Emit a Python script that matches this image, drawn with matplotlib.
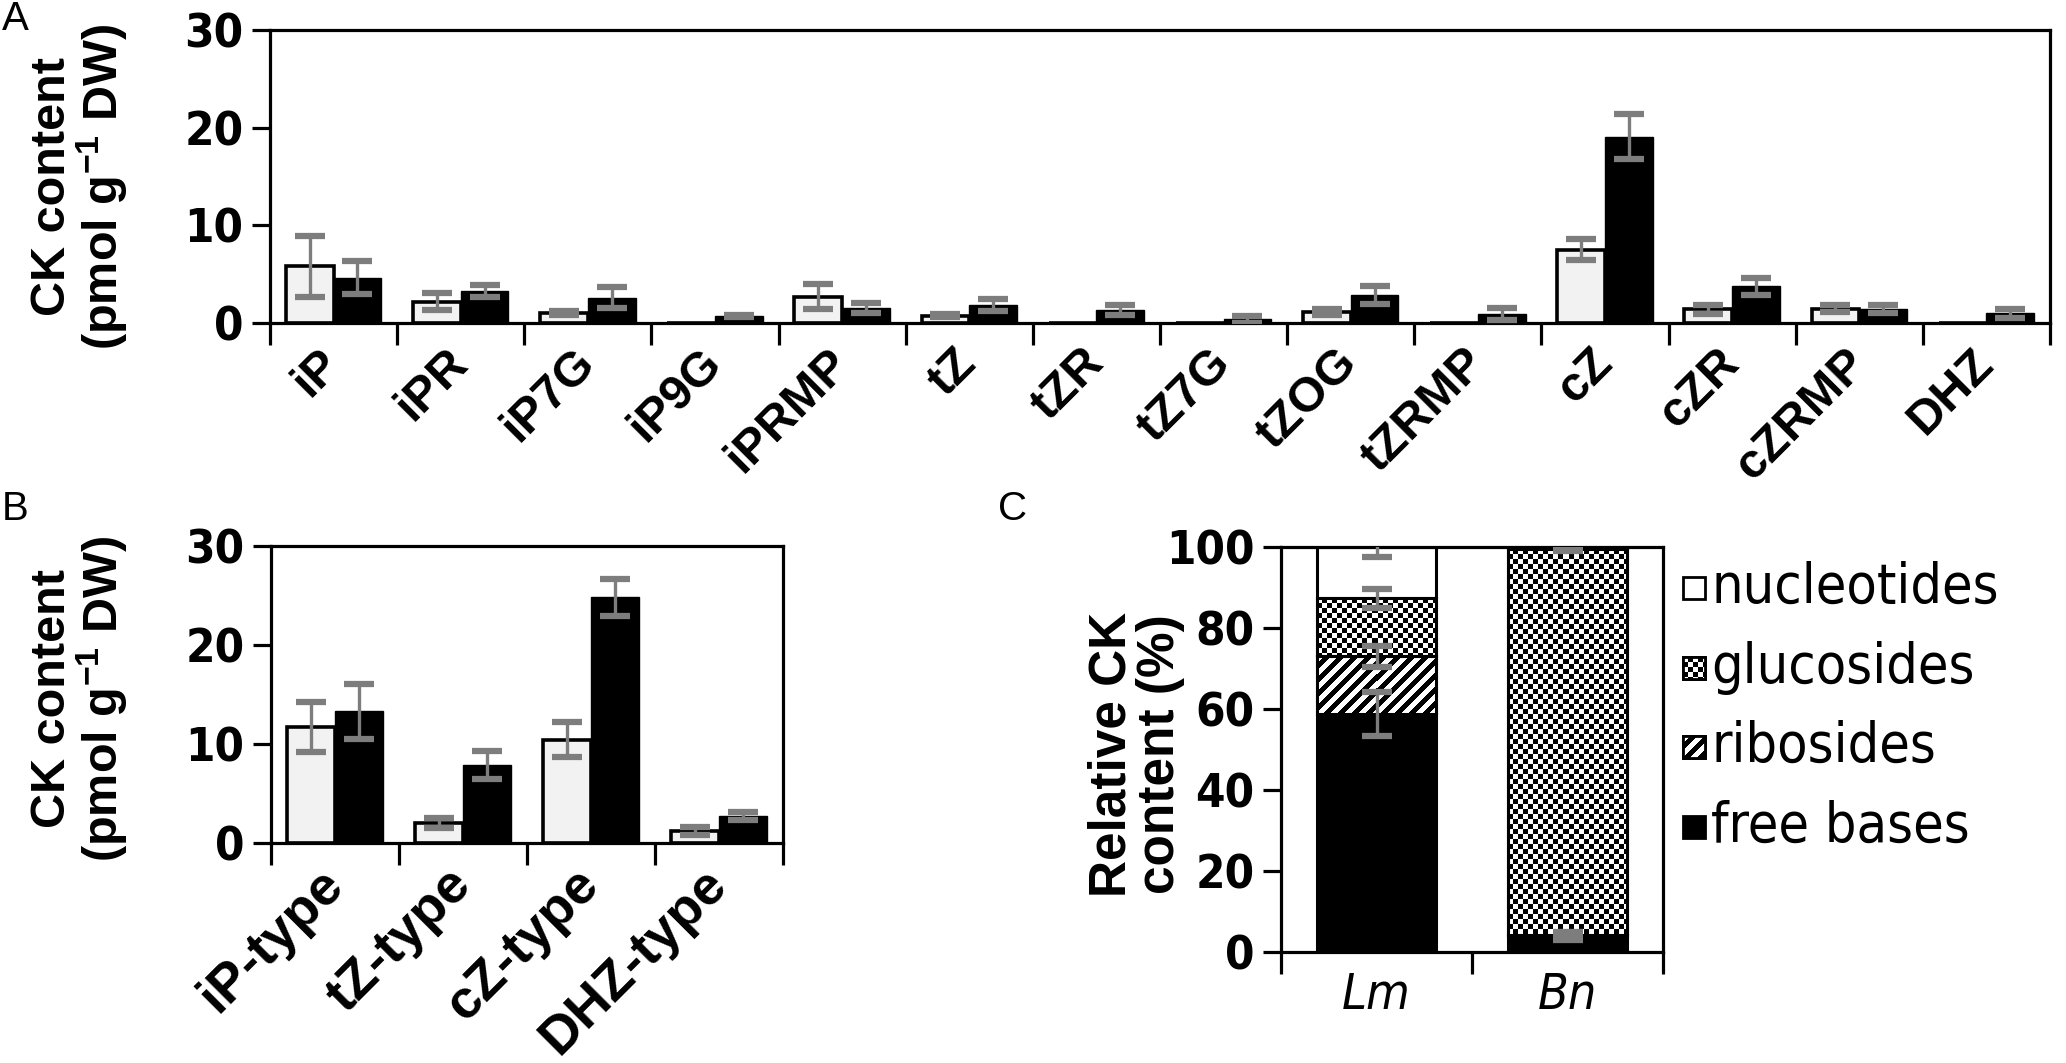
import numpy as np
import matplotlib
matplotlib.use('Agg')
import matplotlib.pyplot as plt
from matplotlib import font_manager
from matplotlib.font_manager import FontProperties
from matplotlib.patches import Rectangle

# ---------------- data ----------------
a_labels = ['iP', 'iPR', 'iP7G', 'iP9G', 'iPRMP', 'tZ', 'tZR', 'tZ7G', 'tZOG',
            'tZRMP', 'cZ', 'cZR', 'cZRMP', 'DHZ']
a_white = [5.8, 2.2, 1.05, 0.0, 2.7, 0.75, 0.0, 0.0, 1.1, 0.0, 7.5, 1.4, 1.45, 0.0]
a_white_err = [3.1, 0.85, 0.2, 0.0, 1.3, 0.15, 0.0, 0.0, 0.3, 0.0, 1.1, 0.45, 0.35, 0.0]
a_black = [4.65, 3.3, 2.6, 0.72, 1.5, 1.85, 1.3, 0.4, 2.85, 0.92, 19.05, 3.75, 1.45, 0.98]
a_black_err = [1.7, 0.6, 1.1, 0.15, 0.5, 0.6, 0.5, 0.35, 0.9, 0.6, 2.3, 0.85, 0.4, 0.5]

b_labels = ['iP-type', 'tZ-type', 'cZ-type', 'DHZ-type']
b_white = [11.7, 2.05, 10.45, 1.2]
b_white_err = [2.55, 0.5, 1.75, 0.4]
b_black = [13.3, 7.9, 24.8, 2.7]
b_black_err = [2.8, 1.4, 1.85, 0.42]

c_labels = ['Lm', 'Bn']
c_free = [58.8, 4.0]
c_free_err = [5.5, 1.0]
c_ribo = [14.2, 0.2]
c_ribo_err = [2.6, 0.2]
c_gluco = [14.3, 95.3]
c_gluco_err = [2.4, 0.4]
c_nucl = [12.7, 0.5]
c_nucl_err = [2.5, 0.3]
c_legend = ['nucleotides', 'glucosides', 'ribosides', 'free bases']

# ---------------- fonts ----------------
ttf = font_manager.fontManager.ttflist
names = {f.name for f in ttf}
SANS = 'Liberation Sans' if 'Liberation Sans' in names else 'DejaVu Sans'


def find_file(patterns):
    for pat in patterns:
        for f in ttf:
            base = f.fname.split('/')[-1].lower()
            if base == pat.lower():
                return f.fname
    return None


nb = find_file(['LiberationSansNarrow-Bold.ttf', 'ArialNarrow-Bold.ttf',
                'DejaVuSansCondensed-Bold.ttf', 'RobotoCondensed-Bold.ttf'])
nr = find_file(['LiberationSansNarrow-Regular.ttf', 'ArialNarrow.ttf',
                'DejaVuSansCondensed.ttf', 'RobotoCondensed-Regular.ttf'])
ni = find_file(['LiberationSansNarrow-Italic.ttf', 'ArialNarrow-Italic.ttf',
                'DejaVuSansCondensed-Oblique.ttf', 'RobotoCondensed-Italic.ttf'])


def fp_bold(size):
    if nb:
        return FontProperties(fname=nb, size=size)
    return FontProperties(family=SANS, weight='bold', size=size * 0.9)


def fp_reg(size):
    if nr:
        return FontProperties(fname=nr, size=size)
    return FontProperties(family=SANS, size=size * 0.9)


def fp_ital(size):
    if ni:
        return FontProperties(fname=ni, size=size)
    return FontProperties(family=SANS, style='italic', size=size * 0.9)


plt.rcParams['font.family'] = [SANS, 'DejaVu Sans']
plt.rcParams['mathtext.fontset'] = 'custom'
plt.rcParams['mathtext.rm'] = SANS + ':bold'
plt.rcParams['mathtext.bf'] = SANS + ':bold'
plt.rcParams['mathtext.it'] = SANS + ':bold'

W, H = 2066, 1063
DPI = 100
fig = plt.figure(figsize=(W / DPI, H / DPI), dpi=DPI)

ERR_C = '#7d7d7d'
WHITE_C = '#f2f2f2'
SPINE_LW = 2.3
TICK_SIZE = 34


def px_axes(left, top, right, bottom):
    return fig.add_axes([left / W, 1 - bottom / H, (right - left) / W, (bottom - top) / H])


def style_axes(ax):
    for s in ax.spines.values():
        s.set_linewidth(SPINE_LW)
        s.set_color('black')
    ax.tick_params(axis='both', which='major', direction='out', width=SPINE_LW,
                   length=13, color='black')
    for lab in ax.get_yticklabels():
        lab.set_fontproperties(fp_bold(TICK_SIZE))


def grouped(ax, labels, white, white_err, black, black_err, xfont):
    n = len(labels)
    x = np.arange(n) + 0.5
    bw = 0.375
    ax.bar(x - bw / 2, white, bw, color=WHITE_C, edgecolor='black', linewidth=2.6, zorder=2)
    ax.bar(x + bw / 2, black, bw, color='black', edgecolor='black', linewidth=1.0, zorder=2)
    for xs, v, e in ((x - bw / 2, white, white_err), (x + bw / 2, black, black_err)):
        idx = [i for i in range(n) if v[i] > 0]
        ax.errorbar(xs[idx], np.array(v)[idx], yerr=np.array(e)[idx], fmt='none',
                    ecolor=ERR_C, elinewidth=2.4, capsize=11, capthick=4.5, zorder=3)
    ax.set_xlim(0, n)
    ax.set_ylim(0, 30)
    ax.set_yticks([0, 10, 20, 30])
    ax.set_xticks(np.arange(n + 1))
    ax.set_xticklabels([])
    ax.set_xticks(x, minor=True)
    ax.set_xticklabels(labels, minor=True, rotation=45, ha='right', va='center',
                       rotation_mode='anchor', fontsize=xfont, fontweight='bold')
    ax.tick_params(axis='x', which='minor', length=0, pad=24)
    style_axes(ax)
    ax.tick_params(axis='x', which='major', length=16)
    ax.tick_params(axis='y', pad=6)


# ---------------- panel A ----------------
axA = px_axes(270, 30, 2050, 323)
grouped(axA, a_labels, a_white, a_white_err, a_black, a_black_err, 35)

# ---------------- panel B ----------------
axB = px_axes(271, 546, 783, 843)
grouped(axB, b_labels, b_white, b_white_err, b_black, b_black_err, 39)

ylab = 'CK content\n(pmol g$^{-1}$ DW)'
for ax, yc in ((axA, (30 + 323) / 2 + 10), (axB, (546 + 843) / 2 + 4)):
    fig.text(80 / W, 1 - yc / H, ylab, rotation=90, ha='center', va='center',
             multialignment='center', fontsize=35, fontweight='bold', linespacing=1.0)

# ---------------- panel C ----------------
axC = px_axes(1281, 547, 1663, 952)
xc = np.arange(len(c_labels)) + 0.5
cbw = 0.62
bottoms = np.zeros(len(c_labels))
segs = [('free', c_free, c_free_err), ('ribo', c_ribo, c_ribo_err),
        ('gluco', c_gluco, c_gluco_err), ('nucl', c_nucl, c_nucl_err)]
seg_patches = []
for kind, vals, errs in segs:
    fc = 'black' if kind == 'free' else 'white'
    bars = axC.bar(xc, vals, cbw, bottom=bottoms, color=fc, edgecolor='black',
                   linewidth=2.2, zorder=2)
    seg_patches.append((kind, bars))
    tops = bottoms + np.array(vals)
    axC.errorbar(xc, tops, yerr=errs, fmt='none', ecolor=ERR_C, elinewidth=2.4,
                 capsize=11, capthick=4.5, zorder=4)
    bottoms = tops
axC.set_xlim(0, 2)
axC.set_ylim(0, 100)
axC.set_yticks([0, 20, 40, 60, 80, 100])
axC.set_xticks([0, 1, 2])
axC.set_xticklabels([])
axC.set_xticks(xc, minor=True)
axC.set_xticklabels(c_labels, minor=True)
for lab in axC.get_xticklabels(minor=True):
    lab.set_fontproperties(fp_ital(36))
axC.tick_params(axis='x', which='minor', length=0, pad=14)
style_axes(axC)
axC.tick_params(axis='x', which='major', length=16)
axC.tick_params(axis='y', pad=6)
fig.text(1136 / W, 1 - 754 / H, 'Relative CK\ncontent (%)', rotation=90, ha='center',
         va='center', multialignment='center', fontsize=37, fontweight='bold',
         linespacing=1.0)


def pattern_array(kind, w, h):
    w = max(int(round(w)), 1)
    h = max(int(round(h)), 1)
    r, c = np.mgrid[0:h, 0:w]
    if kind == 'gluco':
        return ((r // 5) + (c // 5)) % 2
    if kind == 'ribo':
        return ((c + r) // 7) % 2
    return np.zeros((h, w))


def fill_pattern(ax, patch, kind):
    x0, y0 = patch.get_x(), patch.get_y()
    x1, y1 = x0 + patch.get_width(), y0 + patch.get_height()
    (px0, py0), (px1, py1) = ax.transData.transform([(x0, y0), (x1, y1)])
    arr = pattern_array(kind, abs(px1 - px0), abs(py1 - py0))
    xl, yl = ax.get_xlim(), ax.get_ylim()
    im = ax.imshow(arr, cmap='gray_r', vmin=0, vmax=1, interpolation='nearest',
                   extent=[x0, x1, y0, y1], aspect='auto', zorder=2.5)
    im.set_clip_path(patch)
    ax.set_xlim(xl)
    ax.set_ylim(yl)


for kind, bars in seg_patches:
    if kind in ('gluco', 'ribo'):
        for p in bars.patches:
            if p.get_height() > 0.5:
                fill_pattern(axC, p, kind)
                outline = Rectangle((p.get_x(), p.get_y()), p.get_width(), p.get_height(),
                                    fill=False, edgecolor='black', linewidth=2.2, zorder=3)
                axC.add_patch(outline)

# ---------------- legend for C ----------------
lx0, ly0, lx1, ly1 = 1675, 550, 2064, 870
lax = px_axes(lx0, ly0, lx1, ly1)
lax.axis('off')
leg_kinds = ['nucl', 'gluco', 'ribo', 'free']
leg_y = [588, 668, 747, 827]
sq = 22
sx = 8
for kind, lab, yc in zip(leg_kinds, c_legend, leg_y):
    yy = yc - ly0
    fc = 'black' if kind == 'free' else 'white'
    rect = Rectangle((sx, yy - sq / 2), sq, sq, facecolor=fc, edgecolor='black',
                     linewidth=2.0, zorder=2)
    lax.add_patch(rect)
    if kind in ('gluco', 'ribo'):
        arr = pattern_array(kind, sq, sq)
        im = lax.imshow(arr, cmap='gray_r', vmin=0, vmax=1, interpolation='nearest',
                        extent=[sx, sx + sq, yy + sq / 2, yy - sq / 2], aspect='auto',
                        zorder=2.5)
        im.set_clip_path(rect)
        lax.add_patch(Rectangle((sx, yy - sq / 2), sq, sq, fill=False, edgecolor='black',
                                linewidth=2.0, zorder=3))
    lax.text(sx + sq + 6, yy, lab, ha='left', va='center', fontproperties=fp_reg(40))
lax.set_xlim(0, lx1 - lx0)
lax.set_ylim(ly1 - ly0, 0)

# ---------------- panel letters ----------------
fig.text(2 / W, 1 - 0 / H, 'A', ha='left', va='top', fontsize=29)
fig.text(2 / W, 1 - 490 / H, 'B', ha='left', va='top', fontsize=29)
fig.text(998 / W, 1 - 490 / H, 'C', ha='left', va='top', fontsize=29)

fig.savefig('out.png', dpi=DPI, facecolor='white')
